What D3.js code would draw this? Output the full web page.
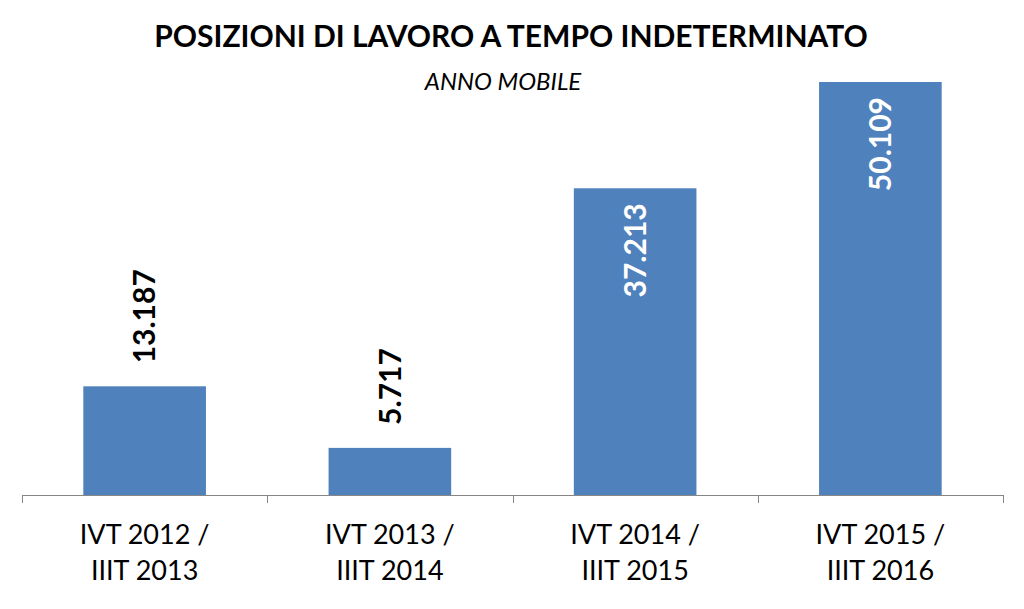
<!DOCTYPE html>
<html><head><meta charset="utf-8">
<script src="https://cdn.jsdelivr.net/npm/d3@7"></script>
<style>body{margin:0;background:#fff}svg{display:block}</style>
</head><body>
<script>
const categories = [["IVT 2012 /","IIIT 2013"],["IVT 2013 /","IIIT 2014"],["IVT 2014 /","IIIT 2015"],["IVT 2015 /","IIIT 2016"]];
const values = [13187, 5717, 37213, 50109];
const valueLabels = ["13.187","5.717","37.213","50.109"];
const title = "POSIZIONI DI LAVORO A TEMPO INDETERMINATO";
const subtitle = "ANNO MOBILE";

const W = 1024, H = 609;
const font = "Lato, 'Open Sans', sans-serif";
const svg = d3.select("body").append("svg").attr("width", W).attr("height", H);

const x = d3.scaleBand().domain(d3.range(values.length)).range([22, 1003]).paddingInner(0.5).paddingOuter(0.25);
const y = d3.scaleLinear().domain([0, 50109]).range([495, 82]);

svg.append("text").attr("x", 511).attr("y", 47).attr("text-anchor", "middle")
  .attr("font-family", font).attr("font-weight", 700).attr("font-size", 30).attr("fill", "#000").text(title);
svg.append("text").attr("x", 503).attr("y", 90).attr("text-anchor", "middle")
  .attr("font-family", font).attr("font-style", "italic").attr("font-size", 24).attr("fill", "#000").text(subtitle);

svg.selectAll("rect.bar").data(values).join("rect").attr("class","bar")
  .attr("x", (d,i) => x(i)).attr("width", x.bandwidth())
  .attr("y", d => y(d)).attr("height", d => y(0) - y(d)).attr("fill", "#4F81BD");

// axis line with boundary ticks
const boundaries = d3.range(values.length + 1).map(i => 22 + i * (981 / values.length));
svg.append("line").attr("x1", 22).attr("x2", 1003).attr("y1", 495.5).attr("y2", 495.5).attr("stroke", "#868686").attr("stroke-width", 1);
svg.selectAll("line.tick").data(boundaries).join("line").attr("class","tick")
  .attr("x1", d => Math.round(d)+0.5).attr("x2", d => Math.round(d)+0.5).attr("y1", 495).attr("y2", 503)
  .attr("stroke", "#868686").attr("stroke-width", 1);

// category labels
categories.forEach((c, i) => {
  const t = svg.append("text").attr("text-anchor", "middle").attr("font-family", font)
    .attr("font-size", 27).attr("fill", "#000");
  c.forEach((line, j) => t.append("tspan").attr("x", x(i) + x.bandwidth()/2).attr("y", 544 + j*36).text(line));
});

// value labels
values.forEach((v, i) => {
  const inside = v > 30000;
  const cx = x(i) + x.bandwidth()/2;
  const yy = inside ? y(v) + 15 : y(v) - 23;
  svg.append("text")
    .attr("transform", `translate(${cx},${yy}) rotate(-90)`)
    .attr("text-anchor", inside ? "end" : "start").attr("dy", "0.36em")
    .attr("font-family", font).attr("font-weight", 700).attr("font-size", 30)
    .attr("fill", inside ? "#fff" : "#000").text(valueLabels[i]);
});
</script>
</body></html>
